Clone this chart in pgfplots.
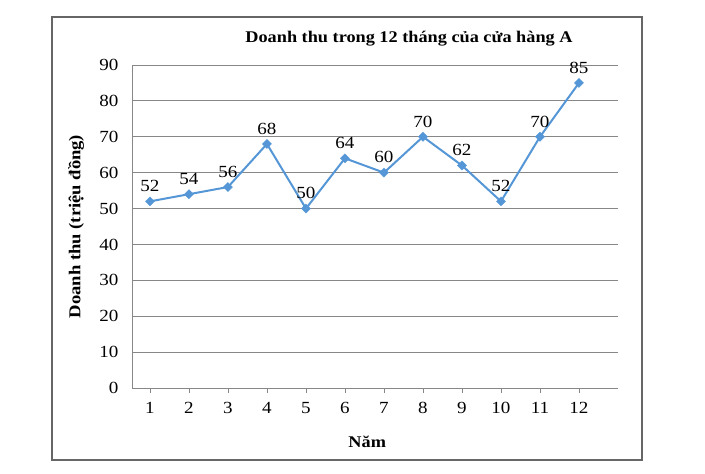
\documentclass[border=0pt]{standalone}
\usepackage{fontspec}
\setmainfont[FakeStretch=1.12]{Liberation Serif}
\usepackage{pgfplots}
\pgfplotsset{compat=1.18}
\definecolor{lineblue}{HTML}{5596D6}
\definecolor{gridgray}{HTML}{878787}
\definecolor{framegray}{HTML}{666666}
\newcommand{\lblfont}{\fontsize{17}{18}\selectfont}
\begin{document}
\begin{tikzpicture}[x=1pt,y=1pt]
\useasboundingbox (-132,-86) rectangle (573,388);
\draw[framegray, line width=1.4pt] (-80,-72) rectangle (510,371);
\node[anchor=base, font=\fontsize{16.3}{18}\selectfont\bfseries] at (277,345)
    {Doanh thu trong 12 tháng của cửa hàng A};
\begin{axis}[
    at={(0,0)}, anchor=south west,
    scale only axis,
    width=486pt, height=323pt,
    xmin=0.54, xmax=13,
    ymin=0, ymax=90,
    xtick={1,...,12},
    ytick={0,10,...,90},
    axis lines*=left,
    axis line style={gridgray, line width=0.8pt, -},
    ymajorgrids,
    grid style={gridgray, line width=0.8pt},
    xtick pos=bottom,
    tick align=outside,
    major tick length=5pt,
    x tick style={gridgray, line width=0.8pt},
    y tick style={draw=none},
    ticklabel style={font=\lblfont, text=black},
    xticklabel style={yshift=-6pt},
    yticklabel style={xshift=-5pt},
    /pgf/number format/assume math mode=true,
    xlabel={\fontsize{16.3}{18}\selectfont\bfseries Năm},
    xlabel style={at={(axis description cs:0.484,-0.167)}, anchor=center},
    ylabel={\fontsize{16.6}{18}\selectfont\bfseries Doanh thu (triệu đồng)},
    ylabel style={at={(axis description cs:-0.115,0.5)}, anchor=center, rotate=0},
    nodes near coords,
    every node near coord/.style={font=\lblfont, text=black, anchor=south, yshift=6pt},
    clip=false,
]
\addplot[lineblue, line width=2pt, mark=square*, mark size=3.2pt,
    mark options={fill=lineblue, draw=lineblue, line width=0.4pt, rotate=45}]
coordinates {
(1,52) (2,54) (3,56) (4,68) (5,50) (6,64)
(7,60) (8,70) (9,62) (10,52) (11,70) (12,85)
};
\end{axis}
\end{tikzpicture}
\end{document}
